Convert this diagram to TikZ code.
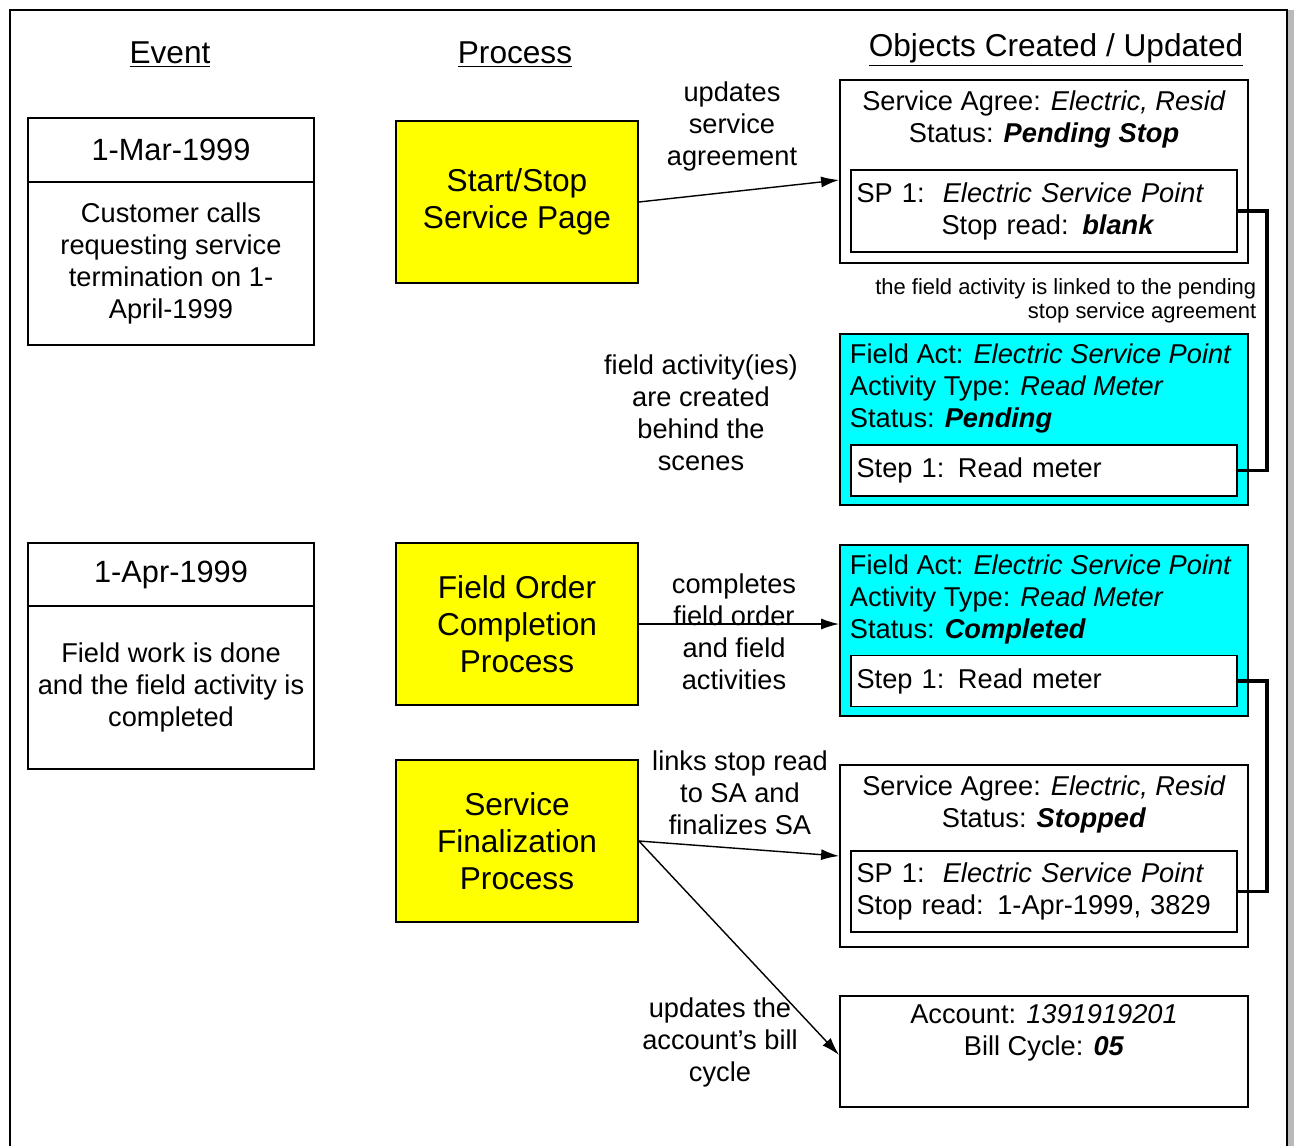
\documentclass[tikz,border=0pt]{standalone}
\usepackage{fontspec}
\setmainfont{Liberation Sans}
\usetikzlibrary{arrows.meta}
\definecolor{procyellow}{RGB}{255,255,0}
\definecolor{actcyan}{RGB}{0,255,255}
\begin{document}
\begin{tikzpicture}[x=0.02cm, y=-0.02cm, line width=1.1pt,
  bodytxt/.style={font=\fontsize{15.5}{18.2}\selectfont, align=center},
  bigtxt/.style={font=\fontsize{18}{21}\selectfont, align=center},
  datetxt/.style={font=\fontsize{17.5}{20}\selectfont},
  evbox/.style={draw, outer sep=0pt, minimum width=5.72cm, bodytxt},
  proc/.style={draw, fill=procyellow, minimum width=4.84cm, minimum height=3.24cm, bigtxt},
  obj/.style={draw, fill=white, minimum width=8.16cm},
  act/.style={draw, fill=actcyan, minimum width=8.16cm, minimum height=3.42cm},
  inbox/.style={draw, fill=white, text width=7.5cm, inner xsep=0.11cm, minimum height=1.64cm, bodytxt, align=left},
  stepbox/.style={draw, fill=white, text width=7.5cm, inner xsep=0.11cm, minimum height=1.02cm, bodytxt, align=left},
  note/.style={font=\fontsize{12.5}{13.6}\selectfont, align=right},
  arr/.style={line width=0.8pt, -{Latex[length=0.36cm, width=0.22cm]}}]
\useasboundingbox (0,0) rectangle (1295,1146);
\fill[gray!55] (1287,10) rectangle (1294,1146);
\draw (10,1146) -- (10,10) -- (1287,10) -- (1287,1146);

\node[bigtxt] (hevent) at (170,55) {\underline{Event}};
\node[bigtxt] (hproc) at (515,55) {\underline{Process}};
\node[bigtxt] (hobj) at (1056,50) {\underline{Objects Created / Updated}};

\node[evbox, datetxt, minimum height=1.28cm] (d1) at (171,150) {1-Mar-1999};
\node[evbox, minimum height=3.26cm, anchor=north] (e1) at (d1.south) {Customer calls\\requesting service\\termination on 1-\\April-1999};
\node[evbox, datetxt, minimum height=1.26cm] (d2) at (171,574.5) {1-Apr-1999};
\node[evbox, minimum height=3.26cm, anchor=north] (e2) at (d2.south) {Field work is done\\and the field activity is\\completed};

\node[proc] (start) at (517,202) {Start/Stop\\Service Page};
\node[proc] (fop) at (517,624) {Field Order\\Completion\\Process};
\node[proc] (sfp) at (517,841) {Service\\Finalization\\Process};

\node[obj, minimum height=3.66cm] (sa1) at (1044,171.5) {};
\node[bodytxt] (sa1txt) at (1044,119) {Service Agree: \textit{Electric, Resid}\\Status: \textbf{\textit{Pending Stop}}};
\node[inbox] (sp1) at (1044,211) {SP 1:\ \ \textit{Electric Service Point}\\\hspace*{1.7cm}Stop read: \textbf{\textit{blank}}};

\node[act] (fa1) at (1044,419.5) {};
\node[bodytxt, align=left, anchor=west, inner sep=0pt] (fa1txt) at (849,388.5) {Field Act: \textit{Electric Service Point}\\Activity Type: \textit{Read Meter}\\Status: \textbf{\textit{Pending}}};
\node[stepbox] (step1) at (1044,470.5) {Step 1: Read meter};

\node[act] (fa2) at (1044,630.5) {};
\node[bodytxt, align=left, anchor=west, inner sep=0pt] (fa2txt) at (849,599.5) {Field Act: \textit{Electric Service Point}\\Activity Type: \textit{Read Meter}\\Status: \textbf{\textit{Completed}}};
\node[stepbox] (step2) at (1044,681) {Step 1: Read meter};

\node[obj, minimum height=3.64cm] (sa2) at (1044,856) {};
\node[bodytxt] (sa2txt) at (1044,804) {Service Agree: \textit{Electric, Resid}\\Status: \textbf{\textit{Stopped}}};
\node[inbox, minimum height=1.62cm] (sp2) at (1044,891.5) {SP 1:\ \ \textit{Electric Service Point}\\Stop read: 1-Apr-1999, 3829};

\node[obj, minimum height=2.22cm] (acct) at (1044,1051.5) {};
\node[bodytxt] (accttxt) at (1044,1033) {Account: \textit{1391919201}\\Bill Cycle: \textbf{\textit{05}}};

\node[bodytxt] (lupd) at (732,126) {updates\\service\\agreement};
\node[bodytxt] (lfa) at (701,413) {field activity(ies)\\are created\\behind the\\scenes};
\node[bodytxt] (lcomp) at (734,632) {completes\\field order\\and field\\activities};
\node[bodytxt] (llink) at (740,793) {links stop read\\to SA and\\finalizes SA};
\node[bodytxt] (lacct) at (720,1042) {updates the\\account's bill\\cycle};
\node[note, anchor=east] (lnote) at (1263,300.5) {the field activity is linked to the pending\\stop service agreement};

\draw[arr] (start.east) -- ([yshift=-0.17cm]sa1.west);
\draw[arr] (fop.east) -- (fop.east -| fa2.west);
\draw[arr] (sfp.east) -- (sa2.west);
\draw[arr] (sfp.east) -- ([yshift=-0.07cm]acct.west);

\draw[line width=2.2pt] (sp1.east) -- ++(29,0) |- (step1.east);
\draw[line width=2.2pt] (step2.east) -- ++(29,0) |- (sp2.east);
\end{tikzpicture}
\end{document}
